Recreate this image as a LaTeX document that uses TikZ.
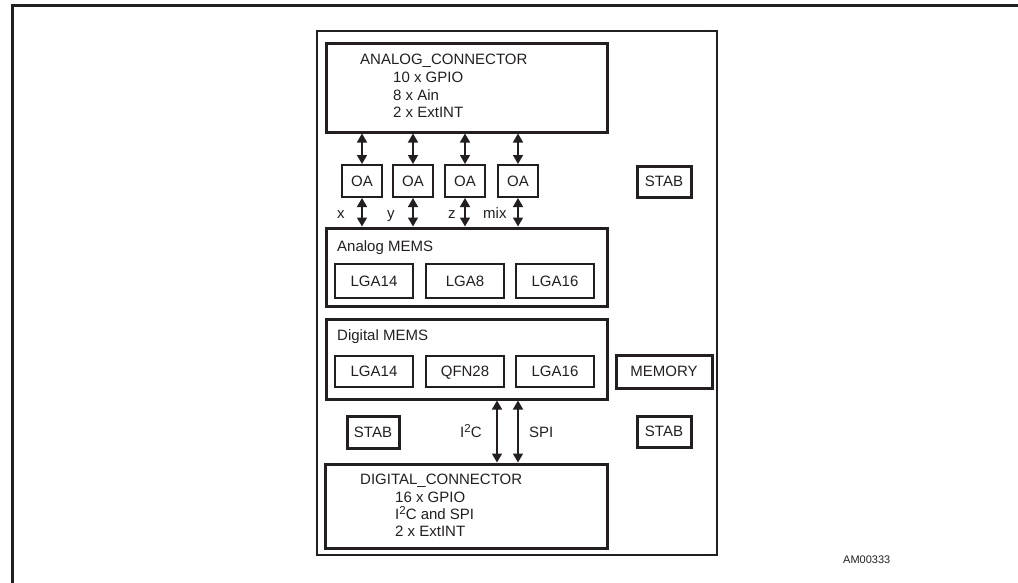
\documentclass[tikz,border=0pt]{standalone}
\usepackage{fontspec}
\setmainfont{Liberation Sans}
\usetikzlibrary{arrows.meta}
\definecolor{ink}{RGB}{35,31,32}
\newcommand{\supii}{\raisebox{5pt}{\fontsize{11.5}{12}\selectfont 2}}
\tikzset{
  txt/.style={font=\fontsize{15}{17}\selectfont, inner sep=0pt, text=ink},
  smalltxt/.style={font=\fontsize{11}{13}\selectfont, inner sep=0pt, text=ink},
  thickbox/.style={draw=ink, line width=3pt, inner sep=0pt, text height=10.7pt, text depth=0pt, font=\fontsize{15}{17}\selectfont, text=ink},
  thinbox/.style={draw=ink, line width=2pt, inner sep=0pt, text height=10.7pt, text depth=0pt, font=\fontsize{15}{17}\selectfont, text=ink},
  link/.style={draw=ink, line width=1.5pt, {Triangle[length=9pt,width=10pt]}-{Triangle[length=9pt,width=10pt]}},
}
\begin{document}
\begin{tikzpicture}[x=1pt,y=-1pt]
\useasboundingbox (0,0) rectangle (1018,582);
% outer frame
\draw[ink, line width=3pt] (1019,5) -- (12,5) -- (12,583);
% board frame
\draw[ink, line width=1.6pt] (317,31) rectangle (717,555);

% analog connector
\node[thickbox, minimum width=281pt, minimum height=89pt] (ac) at (466.5,87.5) {};
\node[txt, anchor=base west] (ac1) at (360,64) {ANALOG\_CONNECTOR};
\node[txt, anchor=base west] (ac2) at (393,82) {10 x GPIO};
\node[txt, anchor=base west] (ac3) at (393,100) {8 x Ain};
\node[txt, anchor=base west] (ac4) at (393,117) {2 x ExtINT};

% OA
\node[thinbox, minimum width=40pt, minimum height=32pt] (oa1) at (362,181) {OA};
\node[thinbox, minimum width=40pt, minimum height=32pt] (oa2) at (413,181) {OA};
\node[thinbox, minimum width=40pt, minimum height=32pt] (oa3) at (465,181) {OA};
\node[thinbox, minimum width=40pt, minimum height=32pt] (oa4) at (518,181) {OA};

% analog MEMS
\node[thickbox, minimum width=281pt, minimum height=78pt] (am) at (466.5,267) {};
\node[txt, anchor=base west] (amt) at (337,251) {Analog MEMS};
\node[thinbox, minimum width=78pt, minimum height=34pt] (am1) at (374,281) {LGA14};
\node[thinbox, minimum width=78pt, minimum height=34pt] (am2) at (465,281) {LGA8};
\node[thinbox, minimum width=78pt, minimum height=34pt] (am3) at (555,281) {LGA16};

% digital MEMS
\node[thickbox, minimum width=281pt, minimum height=80pt] (dm) at (466.5,359) {};
\node[txt, anchor=base west] (dmt) at (337,340) {Digital MEMS};
\node[thinbox, minimum width=78pt, minimum height=31pt] (dm1) at (374,371.5) {LGA14};
\node[thinbox, minimum width=78pt, minimum height=31pt] (dm2) at (465,371.5) {QFN28};
\node[thinbox, minimum width=78pt, minimum height=31pt] (dm3) at (555,371.5) {LGA16};

% side boxes
\node[thickbox, minimum width=96pt, minimum height=33pt] (mem) at (664,371.5) {MEMORY};
\node[thickbox, minimum width=54pt, minimum height=31pt] (stab1) at (664,181.5) {STAB};
\node[thickbox, minimum width=54pt, minimum height=31pt] (stab2) at (664,431.5) {STAB};
\node[thickbox, minimum width=52pt, minimum height=32pt] (stab3) at (373,432) {STAB};

% digital connector
\node[thickbox, minimum width=282pt, minimum height=84pt] (dc) at (466,506) {};
\node[txt, anchor=base west] (dc1) at (360,484) {DIGITAL\_CONNECTOR};
\node[txt, anchor=base west] (dc2) at (395,502) {16 x GPIO};
\node[txt, anchor=base west] (dc3) at (395,519) {I\supii C and SPI};
\node[txt, anchor=base west] (dc4) at (395,536) {2 x ExtINT};

% connectors analog
\foreach \i in {1,2,3,4} {
  \draw[link] (oa\i.north |- ac.south) -- (oa\i.north);
  \draw[link] (oa\i.south) -- (oa\i.south |- am.north);
}
\node[txt, anchor=base west] (lx) at (337,218) {x};
\node[txt, anchor=base west] (ly) at (387,218) {y};
\node[txt, anchor=base west] (lz) at (448,218) {z};
\node[txt, anchor=base west] (lmix) at (483,218) {mix};

% I2C / SPI
\coordinate (i2c) at (497,0);
\coordinate (spi) at (518,0);
\draw[link] (i2c |- dm.south) -- (i2c |- dc.north);
\draw[link] (spi |- dm.south) -- (spi |- dc.north);
\node[txt, anchor=base west] (li2c) at (460,437) {I\supii C};
\node[txt, anchor=base west] (lspi) at (529,437) {SPI};

\node[smalltxt, anchor=base west] (am0) at (843,563) {AM00333};
\end{tikzpicture}
\end{document}
